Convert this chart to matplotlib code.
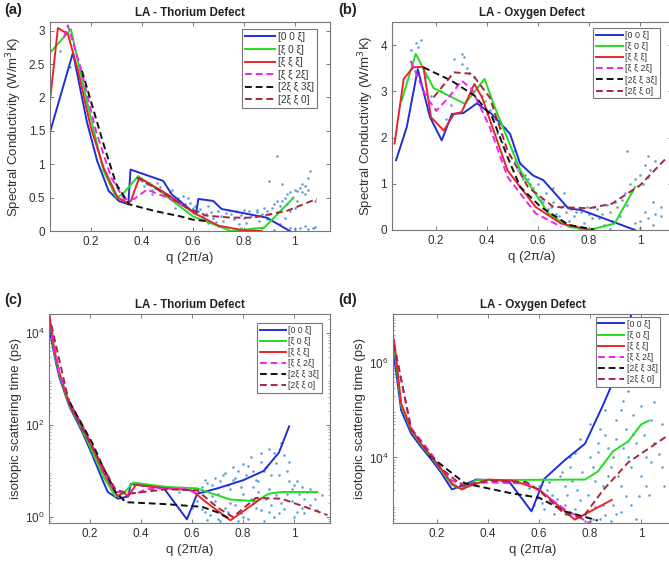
import matplotlib
matplotlib.use("Agg")
from matplotlib import pyplot as plt
import numpy as np

plt.rcParams['font.family'] = ['Liberation Sans', 'DejaVu Sans']

labels = ['[0 0 ξ]', '[ξ 0 ξ]', '[ξ ξ ξ]', '[ξ ξ 2ξ]', '[2ξ ξ 3ξ]', '[2ξ ξ 0]']
colors = ['#1f2fd8', '#22dd22', '#e8262a', '#ee22ee', '#111111', '#a8283a']
styles = ['-', '-', '-', '--', '--', '--']

# (a) LA - Thorium defect, spectral conductivity
a_q0 = [0.04, 0.13, 0.185, 0.225, 0.27, 0.31, 0.347, 0.356, 0.484, 0.517, 0.612, 0.622, 0.68, 0.713, 0.89, 0.98]
a_k0 = [1.48, 2.67, 1.63, 1.05, 0.6, 0.45, 0.40, 0.92, 0.75, 0.55, 0.25, 0.48, 0.45, 0.33, 0.2, 0.0]
a_q1 = [0.04, 0.122, 0.19, 0.25, 0.3, 0.325, 0.385, 0.47, 0.6, 0.75, 0.88, 0.995]
a_k1 = [2.67, 3.02, 1.85, 0.9, 0.5, 0.55, 0.82, 0.6, 0.22, 0.0, 0.05, 0.5]
a_q2 = [0.04, 0.071, 0.11, 0.15, 0.2, 0.25, 0.305, 0.345, 0.357, 0.39, 0.5, 0.6, 0.7, 0.8, 0.87]
a_k2 = [1.95, 3.04, 2.95, 2.4, 1.55, 0.95, 0.5, 0.42, 0.45, 0.80, 0.55, 0.28, 0.08, 0.01, 0.0]
a_q3 = [0.095, 0.11, 0.16, 0.22, 0.28, 0.33, 0.37, 0.42, 0.5, 0.58]
a_k3 = [2.9, 3.08, 2.45, 1.5, 0.8, 0.48, 0.48, 0.62, 0.5, 0.35]
a_q4 = [0.165, 0.2, 0.25, 0.3, 0.35, 0.45, 0.55, 0.6, 0.65]
a_k4 = [2.4, 1.95, 1.3, 0.7, 0.4, 0.3, 0.22, 0.17, 0.15]
a_q5 = [0.38, 0.45, 0.576, 0.654, 0.75, 0.837, 0.968, 1.086]
a_k5 = [0.8, 0.65, 0.35, 0.23, 0.2, 0.2, 0.3, 0.48]
a_sq = [0.42, 0.45, 0.48, 0.5, 0.52, 0.55, 0.57, 0.6, 0.62, 0.65, 0.68, 0.7, 0.72, 0.75, 0.78, 0.8,
        0.82, 0.84, 0.86, 0.88, 0.9, 0.92, 0.94, 0.95, 0.97, 0.99, 1.0, 1.02, 1.03, 1.04, 1.05, 1.06,
        1.02, 1.05, 1.08, 0.93, 0.9, 0.96, 0.74, 0.66, 0.58, 0.46, 0.44, 0.53, 0.7, 0.8, 0.85, 0.98,
        1.0, 1.08, 0.12, 0.08,
        0.40, 0.41, 0.43, 0.44, 0.47, 0.49, 0.51, 0.54, 0.56, 0.59, 0.61, 0.63, 0.64, 0.67, 0.69, 0.71,
        0.73, 0.76, 0.77, 0.79, 0.81, 0.83, 0.85, 0.87, 0.89, 0.91, 0.93, 0.94, 0.96, 0.98, 1.01, 1.03,
        1.04, 1.05, 0.98, 1.0, 1.04, 1.07, 0.92, 0.87, 0.83, 0.79, 0.95, 1.01, 0.97, 0.93, 0.89, 0.6,
        0.66]
a_sk = [0.7, 0.65, 0.6, 0.52, 0.62, 0.45, 0.4, 0.35, 0.3, 0.25, 0.2, 0.3, 0.15, 0.25, 0.1, 0.2,
        0.3, 0.05, 0.15, 0.35, 0.25, 0.4, 0.1, 0.45, 0.55, 0.5, 0.62, 0.65, 0.7, 0.55, 0.8, 0.9,
        0.05, 0.03, 0.06, 1.13, 0.75, 0.2, 0.32, 0.38, 0.5, 0.72, 0.55, 0.35, 0.08, 0.32, 0.28, 0.3,
        0.35, 0.45, 2.45, 2.7,
        0.75, 0.68, 0.72, 0.62, 0.66, 0.55, 0.58, 0.5, 0.52, 0.42, 0.38, 0.33, 0.22, 0.28, 0.14, 0.22,
        0.27, 0.18, 0.3, 0.24, 0.12, 0.22, 0.32, 0.26, 0.3, 0.34, 0.45, 0.38, 0.5, 0.58, 0.6, 0.58,
        0.68, 0.62, 0.05, 0.03, 0.08, 0.04, 0.02, 0.04, 0.02, 0.04, 0.7, 0.45, 0.4, 0.28, 0.18, 0.28,
        0.12]

# (b) LA - Oxygen defect, spectral conductivity
b_q0 = [0.043, 0.085, 0.128, 0.176, 0.222, 0.262, 0.307, 0.36, 0.418, 0.49, 0.529, 0.58, 0.62, 0.718, 0.77, 0.98]
b_k0 = [1.51, 2.23, 3.48, 2.44, 1.94, 2.51, 2.53, 2.74, 2.51, 2.08, 1.44, 1.18, 1.08, 0.47, 0.43, 0.0]
b_q1 = [0.065, 0.12, 0.19, 0.313, 0.39, 0.43, 0.53, 0.64, 0.72, 0.8, 0.9, 0.98]
b_k1 = [2.8, 3.81, 3.07, 2.73, 3.27, 2.66, 1.29, 0.36, 0.07, 0.0, 0.14, 0.93]
b_q2 = [0.037, 0.073, 0.11, 0.15, 0.18, 0.23, 0.27, 0.30, 0.35, 0.38, 0.43, 0.48, 0.59, 0.69, 0.8]
b_k2 = [1.87, 3.27, 3.52, 3.53, 2.44, 2.15, 2.51, 2.55, 3.16, 2.87, 2.08, 1.29, 0.5, 0.14, 0.01]
b_q3 = [0.10, 0.16, 0.2, 0.25, 0.30, 0.34, 0.41, 0.48, 0.59, 0.69]
b_k3 = [3.66, 2.9, 2.58, 2.87, 3.23, 3.05, 2.23, 1.15, 0.36, 0.07]
b_q4 = [0.15, 0.26, 0.35, 0.42, 0.48, 0.53, 0.61, 0.72, 0.82]
b_k4 = [3.52, 3.23, 2.91, 2.44, 1.58, 0.93, 0.5, 0.11, 0.01]
b_q5 = [0.19, 0.27, 0.34, 0.41, 0.48, 0.56, 0.66, 0.8, 0.89, 1.0, 1.1]
b_k5 = [2.87, 3.41, 3.38, 2.87, 1.72, 0.93, 0.5, 0.47, 0.57, 0.97, 1.54]
b_sq = [0.1, 0.12, 0.14, 0.27, 0.3, 0.32, 0.35, 0.38, 0.4, 0.45, 0.5, 0.55, 0.58, 0.6, 0.62, 0.65,
        0.68, 0.7, 0.72, 0.75, 0.78, 0.8, 0.82, 0.84, 0.86, 0.88, 0.9, 0.92, 0.94, 0.95, 0.96, 0.98,
        1.0, 1.02, 1.03, 1.0, 1.02, 1.05, 1.05, 1.08, 0.7, 0.66, 0.6, 0.56, 0.53, 0.2, 0.24, 0.22,
        0.76, 0.88,
        0.36, 0.39, 0.41, 0.43, 0.44, 0.46, 0.47, 0.49, 0.51, 0.52, 0.54, 0.57, 0.59, 0.61, 0.63, 0.64,
        0.66, 0.67, 0.69, 0.71, 0.73, 0.74, 0.77, 0.79, 0.81, 0.83, 0.85, 0.87, 0.89, 0.91, 0.93, 0.95,
        0.97, 0.99, 1.01, 1.03, 1.04, 1.06, 0.98, 1.0, 1.03, 1.06, 1.08, 0.3, 0.31, 0.33, 0.16, 0.18,
        0.26, 0.13]
b_sk = [3.9, 4.05, 4.1, 3.7, 3.8, 3.5, 3.3, 2.9, 2.5, 2.2, 1.7, 1.2, 0.9, 0.7, 0.6, 0.5,
        0.3, 0.55, 0.2, 0.4, 0.15, 0.35, 0.5, 0.25, 0.1, 0.4, 0.6, 0.3, 0.8, 1.7, 1.0, 1.1,
        1.2, 1.4, 1.6, 0.2, 0.4, 0.6, 0.1, 0.3, 0.8, 0.9, 1.0, 1.1, 1.45, 2.6, 2.4, 3.0,
        0.05, 0.02,
        3.1, 2.8, 2.6, 2.4, 2.1, 1.9, 2.2, 1.6, 1.5, 1.3, 1.1, 1.0, 0.8, 0.65, 0.8, 0.45,
        0.6, 0.35, 0.5, 0.4, 0.45, 0.3, 0.4, 0.5, 0.25, 0.45, 0.35, 0.55, 0.2, 0.5, 0.65, 0.55,
        0.85, 0.95, 1.0, 1.15, 1.3, 1.5, 0.15, 0.05, 0.25, 0.35, 0.5, 3.6, 3.75, 3.4, 3.3, 2.9,
        2.7, 3.95]

# (c) LA - Thorium defect, isotopic scattering time (ps)
c_q0 = [0.04, 0.06, 0.08, 0.12, 0.17, 0.21, 0.25, 0.27, 0.31, 0.35, 0.36, 0.49, 0.58, 0.62, 0.7, 0.8, 0.88, 0.94, 0.98]
c_t0 = [1.4e4, 3.5e3, 1.1e3, 250, 71, 22, 6.3, 3.5, 2.5, 2.8, 5.2, 4.2, 0.89, 3.2, 4.2, 6.3, 10, 25, 93]
c_q1 = [0.04, 0.06, 0.08, 0.12, 0.17, 0.21, 0.25, 0.3, 0.33, 0.37, 0.5, 0.62, 0.66, 0.75, 0.85, 0.9, 0.95, 1.09]
c_t1 = [2.5e4, 4.0e3, 1.26e3, 263, 79, 26, 7.9, 2.8, 3.2, 5.6, 4.5, 4.2, 3.5, 2.4, 2.2, 3.2, 3.5, 3.5]
c_q2 = [0.04, 0.06, 0.08, 0.12, 0.17, 0.21, 0.25, 0.28, 0.31, 0.33, 0.35, 0.38, 0.5, 0.6, 0.65, 0.75, 0.87]
c_t2 = [2.8e4, 4.5e3, 1.4e3, 280, 89, 32, 10, 5.0, 2.8, 3.5, 2.8, 5.0, 4.2, 3.8, 2.2, 0.85, 2.5]
c_q3 = [0.04, 0.08, 0.12, 0.17, 0.21, 0.25, 0.3, 0.34, 0.38, 0.42, 0.5, 0.58, 0.62]
c_t3 = [2.5e4, 1.4e3, 320, 100, 35, 11, 3.5, 3.5, 3.2, 4.0, 4.2, 4.0, 3.2]
c_q4 = [0.12, 0.17, 0.21, 0.25, 0.3, 0.34, 0.5, 0.64, 0.7, 0.75]
c_t4 = [320, 100, 40, 12.6, 3.5, 2.1, 1.9, 1.66, 1.26, 0.9]
c_q5 = [0.04, 0.12, 0.21, 0.3, 0.35, 0.5, 0.62, 0.7, 0.76, 0.85, 0.95, 1.05, 1.13]
c_t5 = [2.5e4, 280, 32, 4.0, 3.2, 4.0, 3.8, 1.6, 1.0, 2.6, 2.5, 1.6, 1.1]
c_sq = [0.62, 0.65, 0.68, 0.70, 0.72, 0.75, 0.78, 0.80, 0.82, 0.85, 0.87, 0.90, 0.92, 0.94, 0.95, 0.97,
        1.00, 1.02, 1.05, 0.60, 0.65, 0.70, 0.75, 0.80, 0.85, 0.88, 0.90, 0.95, 1.00, 1.03, 1.08, 0.78,
        0.83, 0.92, 0.97, 0.62, 0.68, 0.73, 0.86, 0.98, 0.33, 0.36, 0.55, 0.72, 0.76, 0.84, 0.88, 0.93,
        1.04, 0.66,
        0.64, 0.66, 0.69, 0.71, 0.73, 0.74, 0.76, 0.77, 0.79, 0.80, 0.81, 0.83, 0.84, 0.86, 0.87, 0.89,
        0.90, 0.91, 0.93, 0.96, 0.98, 0.99, 1.01, 1.03, 1.06, 1.08, 0.64, 0.67, 0.69, 0.71, 0.74, 0.77,
        0.79, 0.82, 0.84, 0.87, 0.89, 0.91, 0.94, 0.96, 0.99, 1.01, 1.04, 1.06, 1.09, 1.11]
c_st = [4.0, 6.3, 5.0, 3.2, 8.0, 4.0, 10, 3.2, 12.6, 6.3, 16, 4.0, 25, 8.0, 40, 3.2,
        5.0, 3.2, 3.5, 1.6, 1.26, 0.9, 2.0, 1.0, 1.6, 0.8, 1.26, 2.0, 1.0, 1.6, 2.5, 0.8,
        2.5, 1.0, 10, 2.2, 2.8, 1.6, 3.5, 16, 2.5, 3.5, 3.5, 1.1, 6.3, 4.5, 10, 3.0,
        1.2, 0.85,
        4.5, 5.5, 7.0, 6.0, 9.0, 5.0, 12, 7.0, 4.5, 14, 8.0, 20, 10, 6.0, 25, 12,
        30, 8.0, 15, 22, 6.0, 4.0, 6.0, 4.5, 4.0, 3.5, 1.5, 1.1, 2.2, 0.8, 1.3, 1.8,
        1.2, 0.9, 2.0, 1.4, 2.5, 1.8, 1.2, 1.5, 2.2, 1.3, 2.5, 1.8, 1.4, 3.0]

# (d) LA - Oxygen defect, isotopic scattering time (ps)
d_q0 = [0.031, 0.059, 0.098, 0.136, 0.174, 0.213, 0.258, 0.296, 0.354, 0.48, 0.57, 0.62, 0.7, 0.78, 0.85, 0.89, 0.93, 0.97]
d_t0 = [1.4e6, 1.0e5, 3.2e4, 1.7e4, 9.5e3, 5.0e3, 2.1e3, 2.5e3, 3.4e3, 3.2e3, 720, 3.5e3, 8.7e3, 1.95e4, 1.26e5, 4.0e5, 2.5e6, 1.6e7]
d_q1 = [0.031, 0.059, 0.098, 0.136, 0.174, 0.213, 0.258, 0.296, 0.354, 0.78, 0.83, 0.89, 0.95, 1.0, 1.03]
d_t1 = [2.5e6, 1.26e5, 3.8e4, 1.9e4, 1.07e4, 5.6e3, 2.6e3, 2.2e3, 3.3e3, 3.4e3, 5.0e3, 1.35e4, 2.2e4, 5.0e4, 6.0e4]
d_q2 = [0.031, 0.059, 0.098, 0.136, 0.174, 0.213, 0.258, 0.296, 0.33, 0.4, 0.5, 0.6, 0.74, 0.885]
d_t2 = [3.1e6, 1.4e5, 4.0e4, 2.0e4, 1.1e4, 6.0e3, 2.8e3, 2.1e3, 2.5e3, 3.4e3, 3.2e3, 2.1e3, 480, 1.26e3]
d_q3 = [0.031, 0.098, 0.174, 0.213, 0.258, 0.3, 0.4, 0.55, 0.6, 0.7, 0.8]
d_t3 = [2.5e6, 4.2e4, 1.26e4, 6.3e3, 3.2e3, 2.75e3, 2.95e3, 2.8e3, 2.0e3, 800, 400]
d_q4 = [0.17, 0.31, 0.49, 0.6, 0.7, 0.83]
d_t4 = [1.1e4, 2.8e3, 1.74e3, 1.4e3, 720, 460]
d_q5 = [0.031, 0.098, 0.213, 0.3, 0.4, 0.55, 0.6, 0.7, 0.77, 0.85, 0.95, 1.1]
d_t5 = [2.5e6, 4.0e4, 6.0e3, 2.5e3, 3.2e3, 3.0e3, 2.0e3, 630, 525, 2.0e3, 7.9e3, 2.8e4]
d_sq = [0.55, 0.58, 0.60, 0.62, 0.65, 0.68, 0.70, 0.72, 0.75, 0.78, 0.80, 0.82, 0.84, 0.85, 0.87, 0.88,
        0.90, 0.90, 0.92, 0.93, 0.95, 0.96, 0.97, 1.00, 1.00, 1.02, 1.03, 1.05, 1.06, 1.08, 0.80, 0.84,
        0.88, 0.76, 0.70, 0.66, 0.95, 0.98, 0.86, 0.74, 0.30, 0.28, 0.90, 0.94, 1.04, 0.83,
        0.56, 0.59, 0.61, 0.63, 0.64, 0.67, 0.69, 0.71, 0.73, 0.74, 0.77, 0.79, 0.81, 0.82, 0.83, 0.85,
        0.86, 0.87, 0.89, 0.89, 0.91, 0.92, 0.93, 0.94, 0.96, 0.97, 0.98, 0.99, 1.01, 1.02, 1.04, 1.05,
        1.07, 1.08, 1.09, 0.81, 0.86, 0.92, 0.78, 0.72, 0.76, 0.80]
d_st = [1.6e3, 1.0e3, 2.5e3, 800, 1.6e3, 4.0e3, 1.0e3, 6.3e3, 2.0e3, 630, 1.0e4, 3.2e3, 4.0e4, 1.0e3, 1.6e4, 6.3e3,
        630, 6.3e4, 2.5e3, 1.6e5, 1.0e4, 1.0e3, 3.2e4, 4.0e3, 1.26e5, 1.0e4, 1.6e3, 2.0e4, 3.2e5, 6.3e3, 450, 500,
        450, 1.26e3, 2.5e3, 630, 2.5e5, 500, 1.0e5, 1.26e4, 2.2e3, 2.4e3, 2.5e4, 4.0e4, 6.3e4, 2.0e4,
        2.2e3, 1.4e3, 1.1e3, 2.0e3, 3.0e3, 1.3e3, 5.0e3, 1.6e3, 3.2e3, 800, 5.0e3, 1.6e3, 6.3e3, 900, 1.3e4, 2.5e3,
        3.0e4, 4.0e3, 1.0e3, 1.0e4, 4.0e3, 1.0e5, 1.6e4, 1.5e3, 6.3e3, 8.0e4, 2.0e4, 1.5e3, 3.0e4, 2.5e3, 8.0e3, 1.5e5,
        1.2e4, 5.0e4, 2.5e3, 500, 600, 700, 450, 1.0e4, 2.5e4, 5.0e4]

panels = [
    ('(a)', 'LA - Thorium Defect', [a_q0, a_q1, a_q2, a_q3, a_q4, a_q5], [a_k0, a_k1, a_k2, a_k3, a_k4, a_k5], a_sq, a_sk),
    ('(b)', 'LA - Oxygen Defect', [b_q0, b_q1, b_q2, b_q3, b_q4, b_q5], [b_k0, b_k1, b_k2, b_k3, b_k4, b_k5], b_sq, b_sk),
    ('(c)', 'LA - Thorium Defect', [c_q0, c_q1, c_q2, c_q3, c_q4, c_q5], [c_t0, c_t1, c_t2, c_t3, c_t4, c_t5], c_sq, c_st),
    ('(d)', 'LA - Oxygen Defect', [d_q0, d_q1, d_q2, d_q3, d_q4, d_q5], [d_t0, d_t1, d_t2, d_t3, d_t4, d_t5], d_sq, d_st),
]

W, H = 669, 569
rects = [[50, 22, 280, 209], [392, 22, 280, 208], [49, 314, 281, 209], [393, 314, 280, 209]]
xlims = [(0.04, 1.138), (0.027, 1.125), (0.04, 1.14), (0.027, 1.125)]
ylims = [(0, 3.13), (0, 4.5), (10 ** -0.13, 10 ** 4.41), (10 ** 2.61, 10 ** 7.04)]
legpos = [(0.954, 0.967), (0.957, 0.971), (0.971, 0.957), (0.954, 0.986)]
legfs = [7.2, 6.4, 6.2, 6.2]
tagpos = [(4, 10), (338, 10), (4, 300), (338, 300)]

fig = plt.figure(figsize=(W / 100, H / 100), dpi=100)
for i, (tag, title, qs, vs, sq, sv) in enumerate(panels):
    x, y, w, h = rects[i]
    ax = fig.add_axes([x / W, 1 - (y + h) / H, w / W, h / H])
    ax.scatter(sq, sv, s=3.5, color='#3f92d4', alpha=0.85, linewidths=0, zorder=1)
    for q, v, c, ls, lab in zip(qs, vs, colors, styles, labels):
        ax.plot(q, v, color=c, ls=ls, lw=1.4, label=lab, zorder=2,
                dashes=(3.5, 2) if ls == '--' else (None, None))
    if i >= 2:
        ax.set_yscale('log')
        ax.set_ylabel('isotopic scattering time (ps)', fontsize=9.5, color='#333333', labelpad=2)
    else:
        ax.set_ylabel('Spectral Conductivity (W/m$^3$K)', fontsize=9.5, color='#333333', labelpad=3)
    ax.set_xlim(*xlims[i])
    ax.set_ylim(*ylims[i])
    ax.set_xticks([0.2, 0.4, 0.6, 0.8, 1.0])
    ax.set_xticklabels(['0.2', '0.4', '0.6', '0.8', '1'])
    if i == 0:
        ax.set_yticks([0, 0.5, 1, 1.5, 2, 2.5, 3])
        ax.set_yticklabels(['0', '0.5', '1', '1.5', '2', '2.5', '3'])
    elif i == 1:
        ax.set_yticks([0, 1, 2, 3, 4])
    elif i == 2:
        ax.set_yticks([1, 1e2, 1e4])
    else:
        ax.set_yticks([1e4, 1e6])
    ax.set_xlabel('q (2π/a)', fontsize=9.5, color='#333333', labelpad=3)
    ax.tick_params(direction='in', length=3, width=0.6, labelsize=8.5, labelcolor='#333333',
                   color='#666666', top=True, right=True)
    ax.tick_params(which='minor', direction='in', length=1.5, width=0.5, color='#888888',
                   top=True, right=True)
    for sp in ax.spines.values():
        sp.set_color('#777777')
        sp.set_linewidth(0.8)
    ax.set_title(title, fontsize=8.3, fontweight='bold', color='#222222', pad=4)
    leg = ax.legend(loc='upper right', bbox_to_anchor=legpos[i], borderaxespad=0, fontsize=legfs[i],
                    handlelength=3.0, handletextpad=0.3, labelspacing=0.25, borderpad=0.3,
                    fancybox=False, framealpha=1, edgecolor='#777777')
    leg.get_frame().set_linewidth(0.8)
    for t in leg.get_texts():
        t.set_color('#333333')
    fig.text(tagpos[i][0] / W, 1 - tagpos[i][1] / H, tag, fontsize=10.5, fontweight='bold',
             ha='left', va='center', color='#222222')

fig.savefig('out.png', dpi=100)
